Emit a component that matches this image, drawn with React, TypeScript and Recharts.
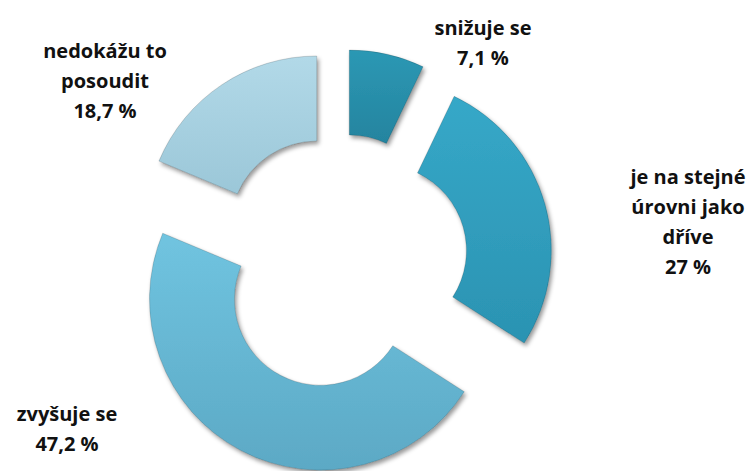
import { Cell, Pie, PieChart } from 'recharts';

const CATEGORIES = ['snižuje se', 'je na stejné úrovni jako dříve', 'zvyšuje se', 'nedokážu to posoudit'];
const SHARES = [7.1, 27, 47.2, 18.7];

const COLORS = [
    ['#2c98b4', '#24849f'],
    ['#36a8c8', '#2b93b2'],
    ['#70c4e0', '#5ca9c5'],
    ['#b2d9e8', '#9bc7d8'],
];

// label layout: line breaks and where the text block sits
const LABEL_LINES = [
    ['snižuje se'],
    ['je na stejné', 'úrovni jako', 'dříve'],
    ['zvyšuje se'],
    ['nedokážu to', 'posoudit'],
];
const LABEL_POS = [
    { x: 483, y: 35 },
    { x: 688, y: 184 },
    { x: 67, y: 421 },
    { x: 105, y: 58 },
];

const WIDTH = 752;
const HEIGHT = 471;
const CX = 340;
const CY = 262;
const OUTER = 171;
const INNER = 86;
const EXPLODE = 42;
const LINE_H = 30;

const RAD = Math.PI / 180;
const total = SHARES.reduce((a, b) => a + b, 0);

function formatShare(v: number) {
    return `${String(v).replace('.', ',')} %`;
}

const slices = SHARES.map((value, i) => {
    const before = SHARES.slice(0, i).reduce((a, b) => a + b, 0);
    const startAngle = 90 - (360 * before) / total;
    const endAngle = 90 - (360 * (before + value)) / total;
    const mid = (startAngle + endAngle) / 2;
    return {
        name: CATEGORIES[i],
        value,
        startAngle,
        endAngle,
        cx: CX + EXPLODE * Math.cos(mid * RAD),
        cy: CY - EXPLODE * Math.sin(mid * RAD),
    };
});

function renderLabel(index: number) {
    return () => {
        const pos = LABEL_POS[index];
        const lines = [...LABEL_LINES[index], formatShare(SHARES[index])];
        return (
            <text
                key={`lbl-${index}`}
                x={pos.x}
                y={pos.y}
                textAnchor="middle"
                fill="#111"
                fontFamily="'Open Sans', sans-serif"
                fontWeight={700}
                fontSize={20}
            >
                {lines.map((line, j) => (
                    <tspan key={j} x={pos.x} dy={j === 0 ? 0 : LINE_H}>
                        {line}
                    </tspan>
                ))}
            </text>
        );
    };
}

export default function App() {
    return (
        <div style={{ position: 'absolute', left: 0, top: 0, background: '#fff' }}>
            <PieChart width={WIDTH} height={HEIGHT} margin={{ top: 0, right: 0, bottom: 0, left: 0 }}>
                <defs>
                    {COLORS.map(([light, dark], i) => (
                        <linearGradient key={i} id={`grad-${i}`} x1="0" y1="0" x2="0" y2="1">
                            <stop offset="0%" stopColor={light} />
                            <stop offset="100%" stopColor={dark} />
                        </linearGradient>
                    ))}
                    <filter id="shadow" x="-20%" y="-20%" width="140%" height="140%">
                        <feDropShadow dx="2" dy="3" stdDeviation="2" floodColor="#000" floodOpacity="0.4" />
                    </filter>
                </defs>
                {slices.map((s, i) => (
                    <Pie
                        key={s.name}
                        data={[s]}
                        dataKey="value"
                        nameKey="name"
                        cx={s.cx}
                        cy={s.cy}
                        startAngle={s.startAngle}
                        endAngle={s.endAngle}
                        innerRadius={INNER}
                        outerRadius={OUTER}
                        stroke="rgba(0,0,0,0.15)"
                        strokeWidth={1}
                        label={renderLabel(i)}
                        labelLine={false}
                        isAnimationActive={false}
                    >
                        <Cell fill={`url(#grad-${i})`} filter="url(#shadow)" />
                    </Pie>
                ))}
            </PieChart>
        </div>
    );
}
